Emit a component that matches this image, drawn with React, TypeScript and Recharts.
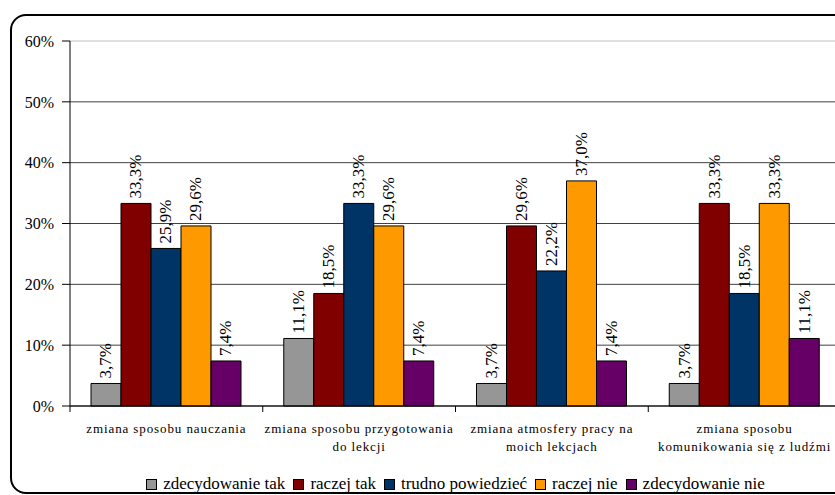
import React from 'react';
import { BarChart, Bar, XAxis, YAxis, CartesianGrid, LabelList } from 'recharts';

const categories = [
  'zmiana sposobu nauczania',
  'zmiana sposobu przygotowania\ndo lekcji',
  'zmiana atmosfery pracy na\nmoich lekcjach',
  'zmiana sposobu\nkomunikowania się z ludźmi',
];

const seriesNames = ['zdecydowanie tak', 'raczej tak', 'trudno powiedzieć', 'raczej nie', 'zdecydowanie nie'];
const seriesColors = ['#969696', '#800000', '#003366', '#FF9900', '#660066'];

const zdecydowanieTak = [3.7, 11.1, 3.7, 3.7];
const raczejTak = [33.3, 18.5, 29.6, 33.3];
const trudnoPowiedziec = [25.9, 33.3, 22.2, 18.5];
const raczejNie = [29.6, 29.6, 37.0, 33.3];
const zdecydowanieNie = [7.4, 7.4, 7.4, 11.1];

const yTicks = [0, 10, 20, 30, 40, 50, 60];

const seriesValues = [zdecydowanieTak, raczejTak, trudnoPowiedziec, raczejNie, zdecydowanieNie];

const data = categories.map((name, i) => {
  const row: Record<string, any> = { name };
  seriesValues.forEach((vals, s) => {
    row['s' + s] = vals[i];
  });
  return row;
});

const FONT = 'Liberation Serif';

const fmt = (v: number) => v.toFixed(1).replace('.', ',') + '%';

const renderValue = (props: any) => {
  const { x, y, width, value } = props;
  const cx = Number(x) + Number(width) / 2;
  const cy = Number(y) - 5;
  return (
    <text
      x={cx}
      y={cy}
      transform={`rotate(-90 ${cx} ${cy})`}
      textAnchor="start"
      dominantBaseline="central"
      style={{ fontFamily: FONT, fontSize: 17 }}
      fill="#000"
    >
      {fmt(value)}
    </text>
  );
};

// category label plus a small tick at the left edge of each band
const CategoryTick = (props: any) => {
  const { x, y, payload } = props;
  const half = payload.offset ?? 96.4;
  const lines = String(payload.value).split('\n');
  return (
    <g>
      <line x1={x - half} x2={x - half} y1={y - 6} y2={y} stroke="#000" />
      <text x={x} y={y} textAnchor="middle" style={{ fontFamily: FONT, fontSize: 13, letterSpacing: 0.9 }} fill="#000">
        {lines.map((l, i) => (
          <tspan key={i} x={x} dy={i === 0 ? 21 : 18}>
            {l}
          </tspan>
        ))}
      </text>
    </g>
  );
};

// the top gridline is drawn lighter than the rest
const gridLine = (p: any) => {
  const top = Math.abs(p.y1 - p.y) < 1;
  return <line key={p.key} x1={p.x1} x2={p.x2} y1={p.y1} y2={p.y2} stroke={top ? '#c0c0c0' : '#404040'} />;
};

export default function App() {
  return (
    <div
      style={{
        position: 'absolute',
        left: 0,
        top: 0,
        width: 835,
        height: 495,
        overflow: 'hidden',
        background: '#fff',
        fontFamily: FONT,
      }}
    >
      <div
        style={{
          position: 'absolute',
          left: 10,
          top: 14,
          width: 880,
          height: 476,
          border: '2px solid #000',
          borderRadius: 16,
        }}
      />
      <div style={{ position: 'absolute', left: 0, top: 0 }}>
        <BarChart
          width={860}
          height={495}
          data={data}
          margin={{ top: 41, right: 19, left: 0, bottom: 39 }}
          barGap={0}
          barCategoryGap={21}
          style={{ fontFamily: FONT }}
        >
          <CartesianGrid vertical={false} horizontal={gridLine} />
          <XAxis
            dataKey="name"
            height={50}
            tickLine={false}
            tickSize={6}
            tickMargin={0}
            axisLine={{ stroke: '#000' }}
            tick={<CategoryTick />}
            interval={0}
          />
          <YAxis
            width={70}
            domain={[0, 60]}
            ticks={yTicks}
            tickFormatter={(v) => v + '%'}
            tickSize={8}
            tickMargin={8}
            axisLine={{ stroke: '#000' }}
            tickLine={{ stroke: '#000' }}
            tick={{ fontSize: 16, fill: '#000', style: { fontFamily: FONT } }}
            interval={0}
          />
          {seriesNames.map((n, s) => (
            <Bar key={n} dataKey={'s' + s} name={n} fill={seriesColors[s]} stroke="#000" strokeWidth={1} isAnimationActive={false}>
              <LabelList dataKey={'s' + s} content={renderValue} />
            </Bar>
          ))}
        </BarChart>
      </div>
      <div
        style={{
          position: 'absolute',
          left: 70,
          width: 771,
          top: 474,
          display: 'flex',
          justifyContent: 'center',
          alignItems: 'center',
          fontFamily: FONT,
          fontSize: 17,
          whiteSpace: 'nowrap',
        }}
      >
        {seriesNames.map((n, s) => (
          <div key={n} style={{ display: 'flex', alignItems: 'center', marginRight: s < seriesNames.length - 1 ? 8 : 0 }}>
            <span
              style={{
                display: 'inline-block',
                width: 9,
                height: 9,
                border: '1px solid #000',
                background: seriesColors[s],
                marginRight: 6,
              }}
            />
            <span>{n}</span>
          </div>
        ))}
      </div>
    </div>
  );
}
